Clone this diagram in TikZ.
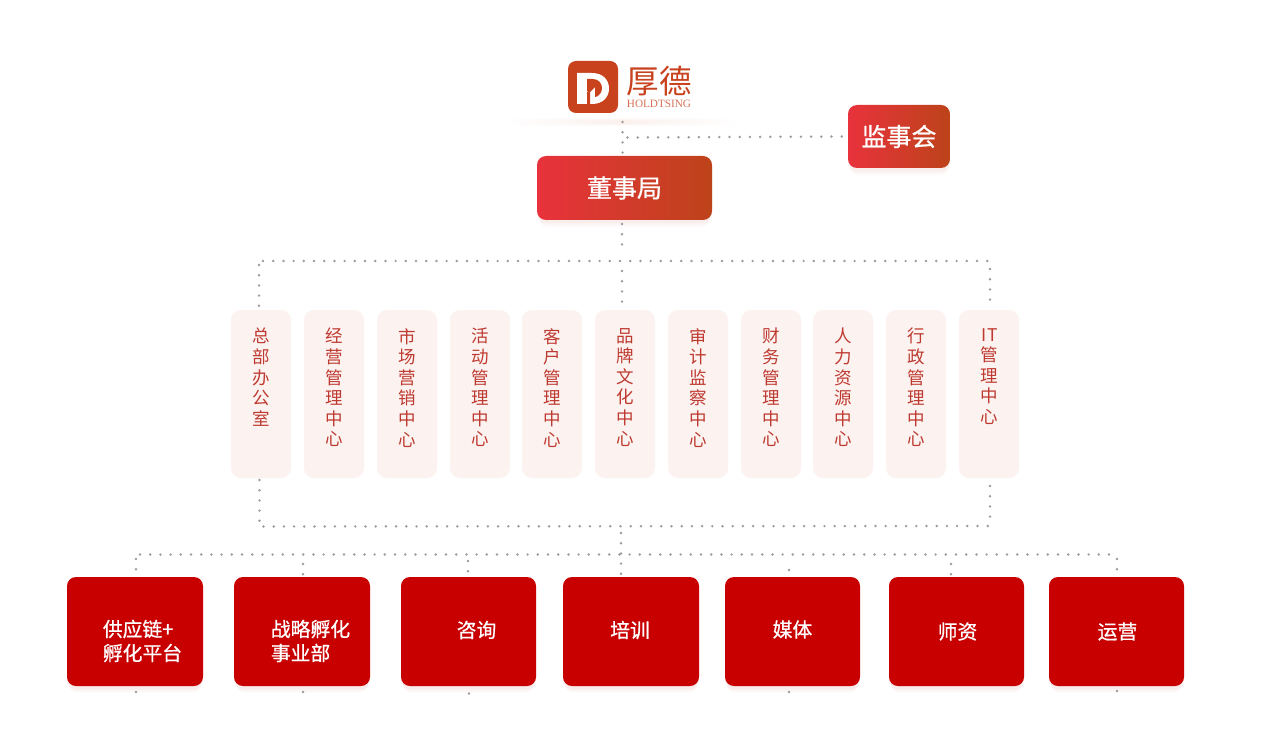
\documentclass[tikz,border=0pt]{standalone}
\usepackage{fontspec}
\usetikzlibrary{shadows,calc}
\setmainfont{Noto Sans CJK SC}
\newfontfamily\cjkmed[AutoFakeBold=0.8]{Noto Sans CJK SC}
\newfontfamily\latinserif{Liberation Serif}
\definecolor{dotgray}{HTML}{A09A9A}
\definecolor{unitred}{HTML}{C80000}
\definecolor{centerbg}{HTML}{FCF2F0}
\definecolor{centertext}{HTML}{BE3A30}
\definecolor{logored}{HTML}{C8421E}
\definecolor{gradleft}{HTML}{E8323C}
\definecolor{gradright}{HTML}{BD431A}
\tikzset{
  softshadow/.style={
    general shadow={shadow yshift=-9pt, shadow xshift=0pt, shadow scale=0.97, fill=#1, opacity=.012},
    general shadow={shadow yshift=-7pt, shadow xshift=0pt, shadow scale=0.98, fill=#1, opacity=.018},
    general shadow={shadow yshift=-5pt, shadow xshift=0pt, shadow scale=0.99, fill=#1, opacity=.022},
    general shadow={shadow yshift=-3pt, shadow xshift=0pt, fill=#1, opacity=.025}},
  dotline/.style={line width=2.7pt, line cap=round, dash pattern=on 0pt off 10.2pt, color=dotgray},
  gradbox/.style={rectangle, rounded corners=9pt, inner sep=0pt, softshadow=logored,
    left color=gradleft, right color=gradright, text=white, font=\cjkmed\bfseries\fontsize{25}{28}\selectfont},
  centerbox/.style={rectangle, rounded corners=10pt, inner sep=0pt, fill=centerbg,
    minimum width=60pt, minimum height=168pt},
  centerlabel/.style={anchor=north, inner sep=0pt, align=center, text=centertext,
    font=\fontsize{17.5}{20.6}\selectfont},
  unitbox/.style={rectangle, rounded corners=9pt, inner sep=0pt, fill=unitred, softshadow=unitred,
    minimum height=109pt},
  unitlabel/.style={inner sep=0pt, align=left, text=white,
    font=\cjkmed\bfseries\fontsize{19.8}{24}\selectfont},
  x=1pt, y=-1pt
}
\begin{document}
\begin{tikzpicture}
\useasboundingbox (0,0) rectangle (1265,751);
\fill[white] (0,0) rectangle (1265,751);

% logo band
\foreach \h/\o in {7/.2,5/.25,3/.35}{
  \shade[left color=white, right color=white, middle color=orange!20!logored!12, opacity=\o]
    (508,122-\h/2) rectangle (736,122+\h/2);
}
% logo mark
\node[rectangle, rounded corners=8pt, fill=logored, minimum width=50pt, minimum height=52pt, inner sep=0pt] (logo) at (593,87) {};
\fill[white] (577,73) -- (592,73) .. controls (603,73) and (609,80) .. (609,88.5)
  .. controls (609,97) and (603,104) .. (592,104) -- (577,104) -- cycle;
\fill[logored] (587,79) -- (593,79) .. controls (599,79) and (602,84) .. (602,88)
  .. controls (602,92) and (599,97) .. (595,97) -- (595,87) -- (590,92) -- (587,91) -- cycle;
\fill[logored] (587,92) -- (590,90) -- (590,104) -- (587,104) -- cycle;
\node[inner sep=0pt, text=logored, font=\fontsize{32.5}{34}\selectfont] (brand) at (659,81) {厚德};
\node[inner sep=0pt, text=logored!75, font=\latinserif\fontsize{11.2}{12}\selectfont] (brandlatin) at (659,104) {HOLDTSING};

% top boxes
\node[gradbox, minimum width=175pt, minimum height=64pt] (board) at (624.5,188) {董事局};
\node[gradbox, minimum width=102pt, minimum height=63pt] (super) at (899,136.5) {监事会};

% centers
\foreach \n/\x/\t in {
 1/261/{总\\部\\办\\公\\室},
 2/334/{经\\营\\管\\理\\中\\心},
 3/407/{市\\场\\营\\销\\中\\心},
 4/480/{活\\动\\管\\理\\中\\心},
 5/552/{客\\户\\管\\理\\中\\心},
 6/625/{品\\牌\\文\\化\\中\\心},
 7/698/{审\\计\\监\\察\\中\\心},
 8/771/{财\\务\\管\\理\\中\\心},
 9/843/{人\\力\\资\\源\\中\\心},
 10/916/{行\\政\\管\\理\\中\\心},
 11/989/{IT\\管\\理\\中\\心}}{
  \node[centerbox] (c\n) at (\x,394) {};
  \node[centerlabel] (cl\n) at (\x+0.7,328) {\t};
}

% units
\foreach \n/\x/\w in {1/135/136,2/302/136,3/468.5/135,4/631/136,5/792.5/135,6/956.5/135,7/1116.5/135}{
  \node[unitbox, minimum width=\w pt] (u\n) at (\x,631.5) {};
}
\node[unitlabel] (ul1) at (142.5,641) {供应链+\\孵化平台};
\node[unitlabel] (ul2) at (310.5,641) {战略孵化\\事业部};
\node[unitlabel] (ul3) at (476.5,630) {咨询};
\node[unitlabel] (ul4) at (630,630) {培训};
\node[unitlabel] (ul5) at (792.5,629.5) {媒体};
\node[unitlabel] (ul6) at (957.5,631.5) {师资};
\node[unitlabel] (ul7) at (1117.5,631.5) {运营};

% junctions
\coordinate (jtop) at (622.5,137.5);
\coordinate (jl) at (259,261);
\coordinate (jr) at (990,261);
\coordinate (kr) at (990,526);

% connectors
\draw[dotline] (622.5,122) -- (622.5,153);
\draw[dotline] (jtop) ++(5,0) -- (super.west);
\draw[dotline] (622,224) -- (622,246);
\draw[dotline] (622,271) -- (622,303);
\draw[dotline] (263,261) -- (jr);
\draw[dotline] (jl) ++(0,4) -- (259,306);
\draw[dotline] (jr) ++(0,8) -- (990,303);
\draw[dotline] (259.5,480) -- (259.5,522);
\draw[dotline] (263.5,526.5) -- (kr);
\draw[dotline] (990,486) -- (990,522);
\draw[dotline] (140,554.5) -- (1113,554.5);
\draw[dotline] (621,533) -- (621,574);
\draw[dotline] (136,559) -- (136,570);
\draw[dotline] (303,564) -- (303,575);
\draw[dotline] (468,561) -- (468,572);
\draw[dotline] (789,570) -- (789,571);
\draw[dotline] (951,564) -- (951,575);
\draw[dotline] (1117,559) -- (1117,570);
\foreach \x/\y in {136/692,303/692,469/693.5,789/692,1117/691}{
  \draw[dotline] (\x,\y) -- (\x,\y+.1);
}
\end{tikzpicture}
\end{document}
